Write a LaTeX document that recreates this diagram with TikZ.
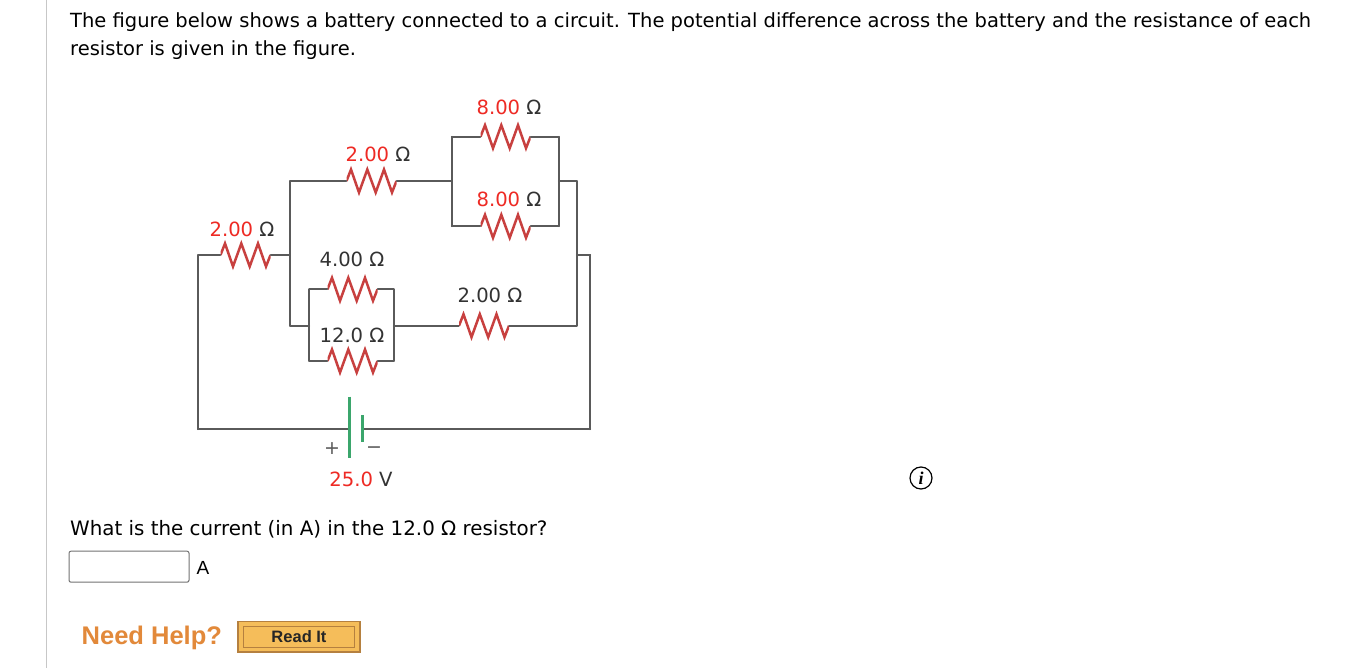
\documentclass[tikz,border=0pt]{standalone}
\usepackage{fontspec}
\setmainfont{DejaVu Sans}
\newfontfamily\helpfont{Liberation Sans}
\definecolor{wirecol}{HTML}{5A5A5A}
\definecolor{rescol}{HTML}{C8403F}
\definecolor{redtxt}{HTML}{EE2A24}
\definecolor{dktxt}{HTML}{333333}
\definecolor{batcol}{HTML}{3BA66C}
\definecolor{helpcol}{HTML}{E2893A}
\definecolor{btncol}{HTML}{F5BD5A}
\definecolor{btnedge}{HTML}{B5803F}
\tikzset{
  resistor/.style={inner sep=0,minimum width=50pt,minimum height=32pt,
    path picture={\draw[rescol,line width=2.5pt,line join=miter]
      ([xshift=-25pt]path picture bounding box.center)
      -- ++(4.5,-11.5) -- ++(8,23) -- ++(8.3,-23) -- ++(8.4,23)
      -- ++(8.3,-23) -- ++(8,23) -- ++(4.5,-11.5);}},
  wire/.style={draw,wirecol,line width=1.8pt,line cap=round},
  plate/.style={draw,batcol,line width=2.5pt},
  val/.style={inner sep=0,anchor=base,font=\fontsize{19.6}{22}\selectfont,text=dktxt},
  bodytxt/.style={inner sep=0,anchor=base west,font=\fontsize{19.5}{23}\selectfont,text=black}
}
\begin{document}
\begin{tikzpicture}[x=1pt,y=-1pt]
   \useasboundingbox (0,0) rectangle (1368,668);
   \fill[white] (0,0) rectangle (1368,668);
   \coordinate (m_t) at (46.5,0);
   \coordinate (m_b) at (46.5,668);
   \draw[black!22,line width=1.2pt] (m_t) -- (m_b);
   % question text
   \node[bodytxt] (l_1) at (70,27.5) {The figure below shows a battery connected to a circuit. The potential difference across the battery and the resistance of each};
   \node[bodytxt] (l_2) at (70,55.5) {resistor is given in the figure.};
   \node[bodytxt,font=\fontsize{19.85}{23}\selectfont] (l_3) at (70,535) {What is the current (in A) in the 12.0 Ω resistor?};
   % resistors
   \node[resistor] (r_1) at (245.5,255) {};
   \node[resistor] (r_2) at (371.5,181) {};
   \node[resistor] (r_3) at (505.5,136.7) {};
   \node[resistor] (r_4) at (505.5,226.3) {};
   \node[resistor] (r_5) at (352.5,289.3) {};
   \node[resistor] (r_6) at (352.5,361) {};
   \node[resistor] (r_7) at (484,325.7) {};
   % corners
   \coordinate (c_1) at (198,255);
   \coordinate (c_2) at (198,429.3);
   \coordinate (c_3) at (290,181);
   \coordinate (c_4) at (290,255);
   \coordinate (c_5) at (290,325.7);
   \coordinate (c_6) at (309.3,325.7);
   \coordinate (c_7) at (309.3,289.3);
   \coordinate (c_8) at (309.3,361);
   \coordinate (c_9) at (393.7,289.3);
   \coordinate (c_10) at (393.7,361);
   \coordinate (c_11) at (393.7,325.7);
   \coordinate (c_12) at (451.7,181);
   \coordinate (c_13) at (451.7,136.7);
   \coordinate (c_14) at (451.7,226.3);
   \coordinate (c_15) at (558.7,136.7);
   \coordinate (c_16) at (558.7,226.3);
   \coordinate (c_17) at (558.7,181);
   \coordinate (c_18) at (576.7,181);
   \coordinate (c_19) at (576.7,255);
   \coordinate (c_20) at (576.7,325.7);
   \coordinate (c_21) at (590.3,255);
   \coordinate (c_22) at (590.3,429.3);
   % battery
   \coordinate (b_1) at (349.3,396.7);
   \coordinate (b_2) at (349.3,458.3);
   \coordinate (b_3) at (362.7,415);
   \coordinate (b_4) at (362.7,441.7);
   \coordinate (b_5) at (349.3,429.3);
   \coordinate (b_6) at (362.7,429.3);
    \path[wire]
    (r_1.west) edge (c_1)
    (c_1) edge (c_2)
    (c_2) edge (b_5)
    (r_1.east) edge (c_4)
    (c_3) edge (c_5)
    (c_3) edge (r_2.west)
    (c_5) edge (c_6)
    (c_7) edge (c_8)
    (c_7) edge (r_5.west)
    (c_8) edge (r_6.west)
    (r_5.east) edge (c_9)
    (r_6.east) edge (c_10)
    (c_9) edge (c_10)
    (c_11) edge (r_7.west)
    (r_7.east) edge (c_20)
    (r_2.east) edge (c_12)
    (c_13) edge (c_14)
    (c_13) edge (r_3.west)
    (c_14) edge (r_4.west)
    (r_3.east) edge (c_15)
    (r_4.east) edge (c_16)
    (c_15) edge (c_16)
    (c_17) edge (c_18)
    (c_18) edge (c_20)
    (c_19) edge (c_21)
    (c_21) edge (c_22)
    (c_22) edge (b_6);
    \path[plate]
    (b_1) edge (b_2)
    (b_3) edge (b_4);
   % labels
   \node[val] (v_1) at (242,236.7) {\textcolor{redtxt}{2.00} Ω};
   \node[val] (v_2) at (378,161.7) {\textcolor{redtxt}{2.00} Ω};
   \node[val] (v_3) at (509,114.7) {\textcolor{redtxt}{8.00} Ω};
   \node[val] (v_4) at (509,206.7) {\textcolor{redtxt}{8.00} Ω};
   \node[val] (v_5) at (352,267) {4.00 Ω};
   \node[val] (v_6) at (352,342) {12.0 Ω};
   \node[val] (v_7) at (490,303) {2.00 Ω};
   \node[val] (v_8) at (361,486) {\textcolor{redtxt}{25.0} V};
   \node[inner sep=0,text=wirecol,font=\fontsize{19}{22}\selectfont] (s_1) at (332,449) {+};
   \node[inner sep=0,text=wirecol,font=\fontsize{19}{22}\selectfont] (s_2) at (374,450) {−};
   % info mark
   \node[circle,draw,line width=1.2pt,minimum size=22pt,inner sep=0,font=\fontsize{18}{18}\selectfont] (i_1) at (921,478) {\fontspec{Liberation Serif}[Scale=1]\bfseries\itshape i};
   % answer box
   \node[draw=black!55,line width=1pt,rounded corners=2pt,minimum width=120pt,minimum height=31pt,inner sep=0] (a_1) at (129,566.7) {};
   \node[inner sep=0,anchor=base,font=\helpfont\fontsize{19}{22}\selectfont] (a_2) at (203,574) {A};
   % help row
   \node[inner sep=0,anchor=base west,text=helpcol,font=\helpfont\bfseries\fontsize{25.5}{28}\selectfont] (h_1) at (81.5,644.5) {Need Help?};
   \node[draw=btnedge,fill=btncol,line width=1.4pt,minimum width=122pt,minimum height=30.5pt,inner sep=0] (h_2) at (299,636.8) {};
   \node[draw=btnedge,line width=1.2pt,minimum width=111pt,minimum height=21pt,inner sep=0,font=\helpfont\bfseries\fontsize{16.5}{18}\selectfont,text=black!85] (h_3) at (299,636.8) {Read It};
\end{tikzpicture}
\end{document}
